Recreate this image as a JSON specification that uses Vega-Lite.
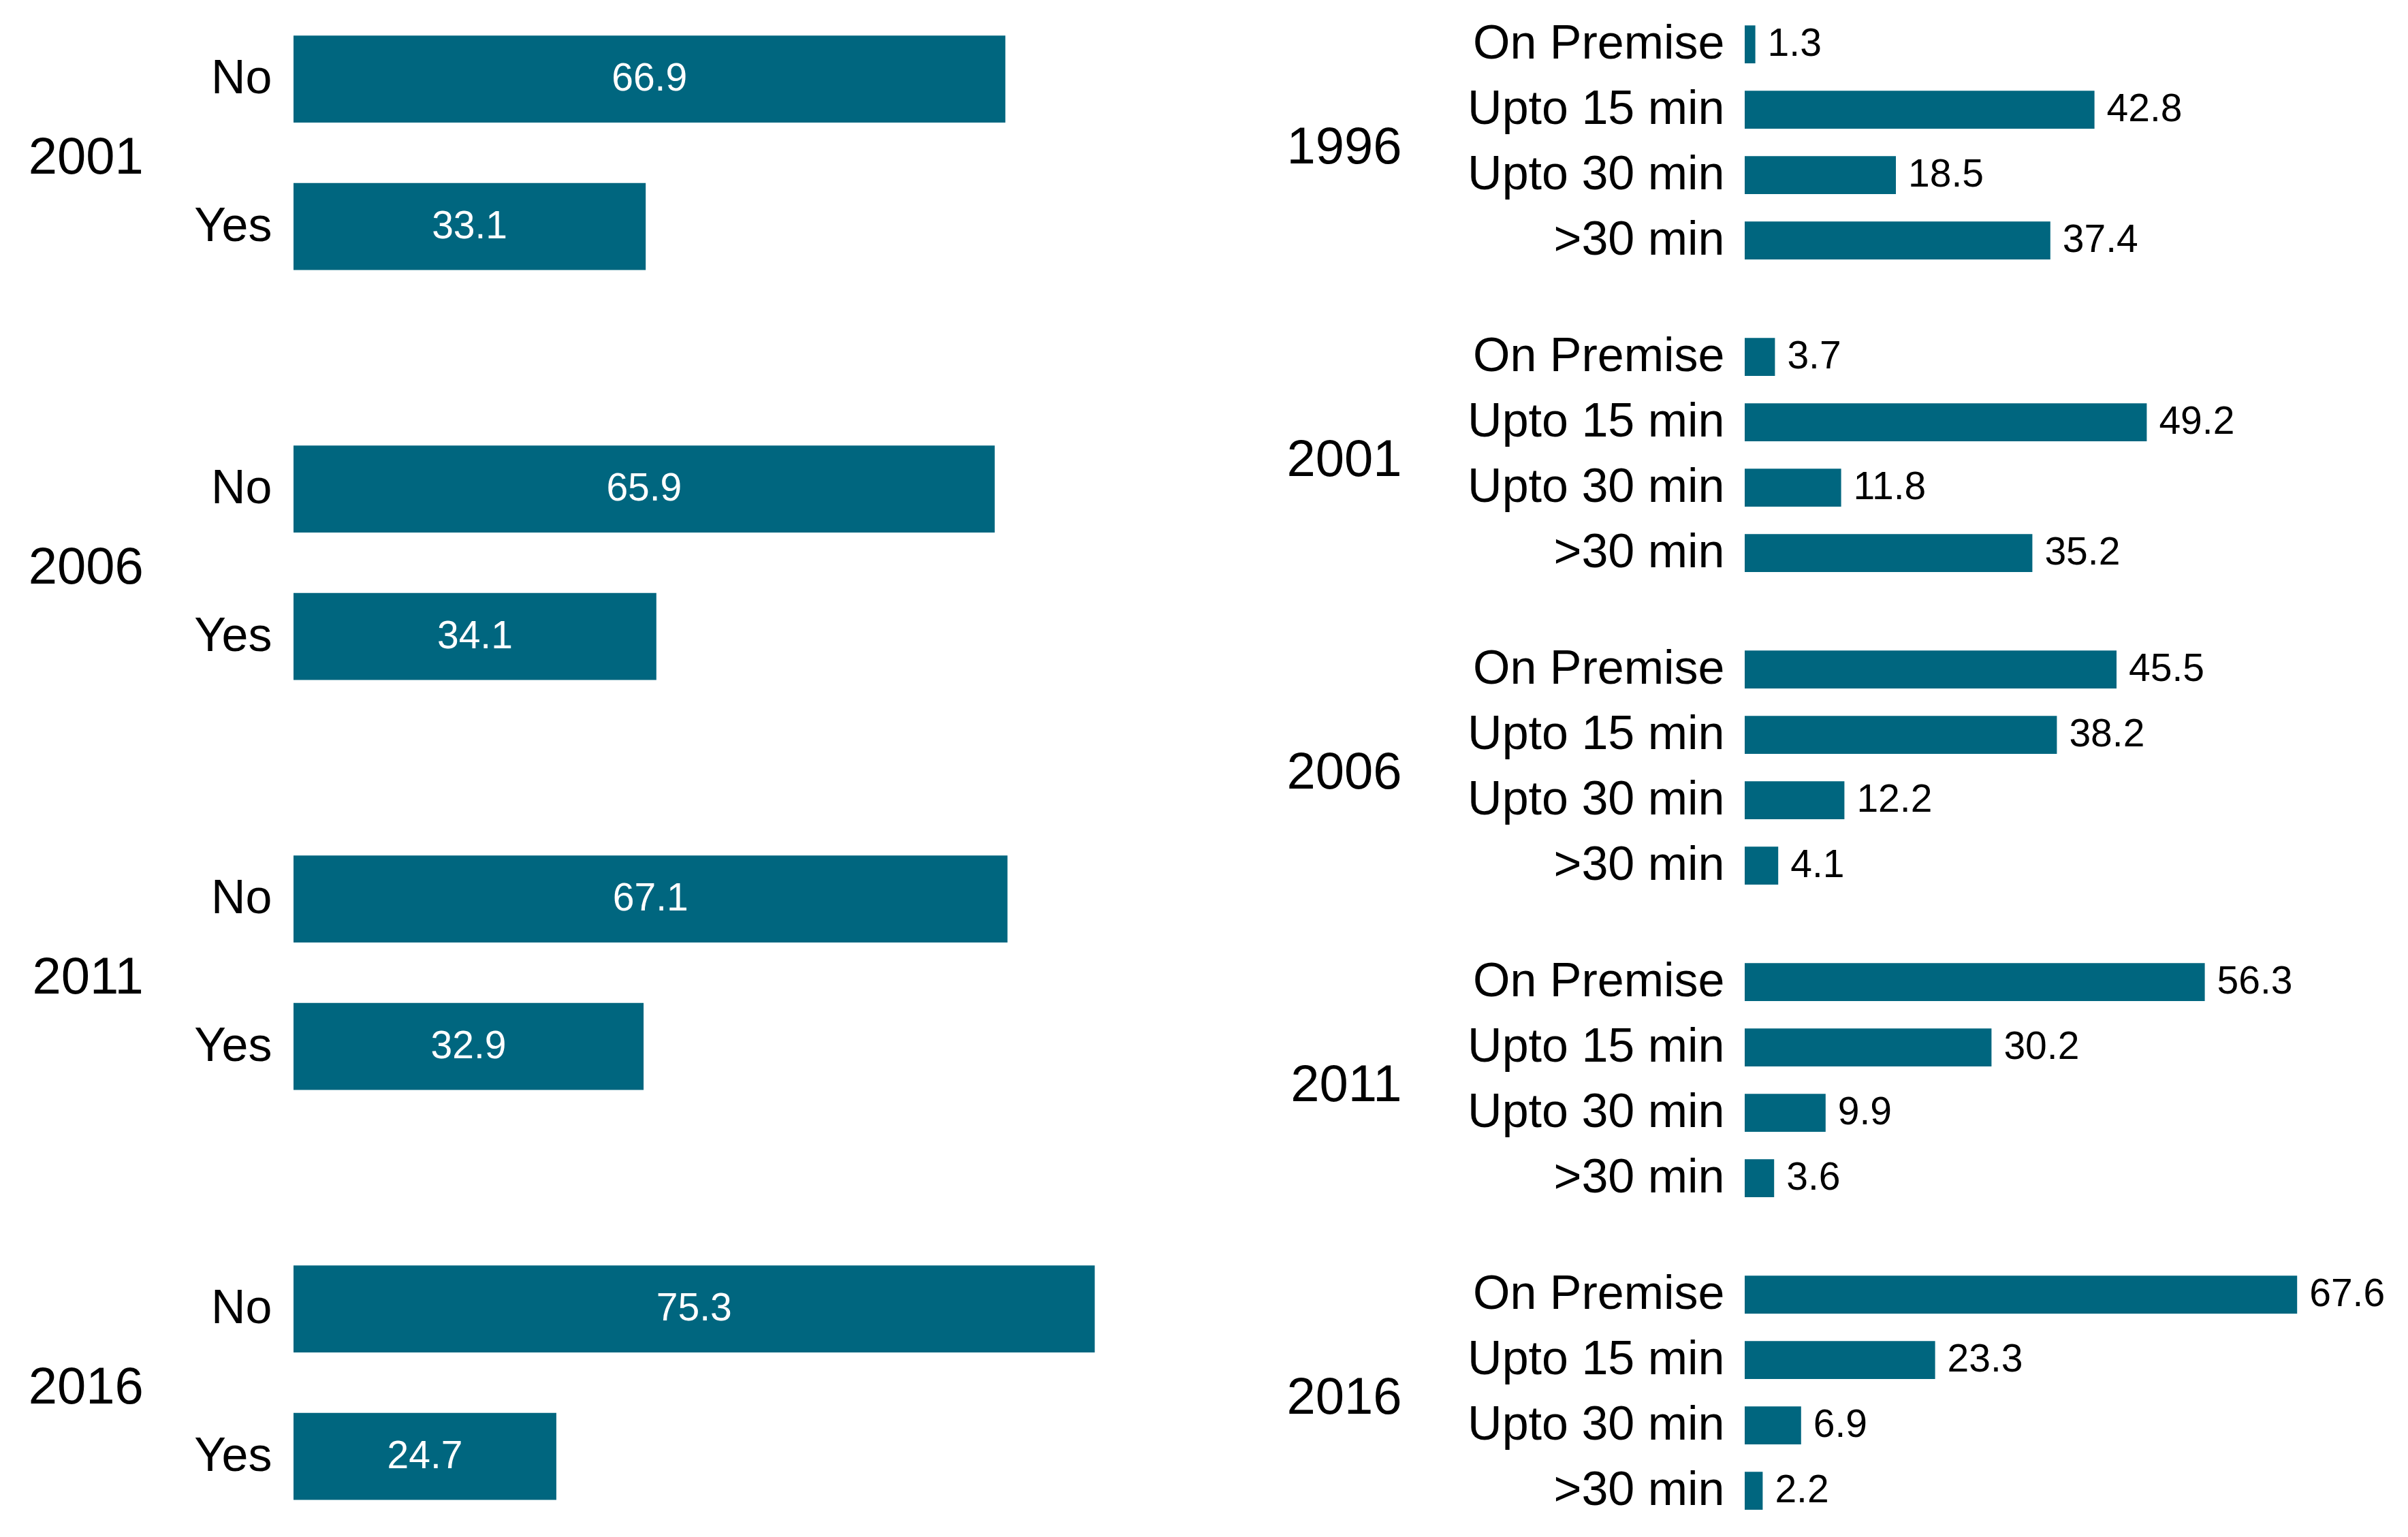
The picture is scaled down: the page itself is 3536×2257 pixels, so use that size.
{
  "$schema": "https://vega.github.io/schema/vega-lite/v6.json",
  "background": "white",
  "padding": {"left": 41, "top": 9, "right": 0, "bottom": 0},
  "autosize": {"type": "pad"},
  "datasets": {
    "left": [
      {"year": "2001", "answer": "No", "value": 66.9},
      {"year": "2001", "answer": "Yes", "value": 33.1},
      {"year": "2006", "answer": "No", "value": 65.9},
      {"year": "2006", "answer": "Yes", "value": 34.1},
      {"year": "2011", "answer": "No", "value": 67.1},
      {"year": "2011", "answer": "Yes", "value": 32.9},
      {"year": "2016", "answer": "No", "value": 75.3},
      {"year": "2016", "answer": "Yes", "value": 24.7}
    ],
    "right": [
      {"year": "1996", "category": "On Premise", "value": 1.3},
      {"year": "1996", "category": "Upto 15 min", "value": 42.8},
      {"year": "1996", "category": "Upto 30 min", "value": 18.5},
      {"year": "1996", "category": ">30 min", "value": 37.4},
      {"year": "2001", "category": "On Premise", "value": 3.7},
      {"year": "2001", "category": "Upto 15 min", "value": 49.2},
      {"year": "2001", "category": "Upto 30 min", "value": 11.8},
      {"year": "2001", "category": ">30 min", "value": 35.2},
      {"year": "2006", "category": "On Premise", "value": 45.5},
      {"year": "2006", "category": "Upto 15 min", "value": 38.2},
      {"year": "2006", "category": "Upto 30 min", "value": 12.2},
      {"year": "2006", "category": ">30 min", "value": 4.1},
      {"year": "2011", "category": "On Premise", "value": 56.3},
      {"year": "2011", "category": "Upto 15 min", "value": 30.2},
      {"year": "2011", "category": "Upto 30 min", "value": 9.9},
      {"year": "2011", "category": ">30 min", "value": 3.6},
      {"year": "2016", "category": "On Premise", "value": 67.6},
      {"year": "2016", "category": "Upto 15 min", "value": 23.3},
      {"year": "2016", "category": "Upto 30 min", "value": 6.9},
      {"year": "2016", "category": ">30 min", "value": 2.2}
    ]
  },
  "spacing": 208,
  "hconcat": [
    {
      "data": {"name": "left"},
      "facet": {
        "row": {
          "field": "year",
          "type": "ordinal",
          "header": {"title": null, "labelOrient": "left", "labelAngle": 0, "labelPadding": 74, "labelFontSize": 76, "labelFont": "Liberation Sans", "labelColor": "black", "labelAlign": "left", "labelBaseline": "line-top", "labelLineHeight": 18}
        }
      },
      "spacing": {"row": 171},
      "spec": {
        "width": 1250,
        "height": 430.8,
        "encoding": {
          "y": {
            "field": "answer",
            "type": "nominal",
            "sort": ["No", "Yes"],
            "scale": {"paddingInner": 0.41, "paddingOuter": 0.2},
            "axis": {"title": null, "domain": false, "ticks": false, "labelPadding": 32, "labelFontSize": 70, "labelFont": "Liberation Sans", "labelColor": "black", "labelLimit": 0}
          }
        },
        "layer": [
          {
            "mark": {"type": "bar", "color": "#00667f"},
            "encoding": {
              "x": {"field": "value", "type": "quantitative", "scale": {"domain": [0, 80]}, "axis": null}
            }
          },
          {
            "mark": {"type": "text", "color": "white", "fontSize": 57, "font": "Liberation Sans", "align": "center", "baseline": "middle"},
            "encoding": {
              "x": {"field": "value", "type": "quantitative", "scale": {"domain": [0, 160]}, "axis": null},
              "text": {"field": "value", "type": "quantitative", "format": ".1f"}
            }
          }
        ],
        "resolve": {"scale": {"x": "independent"}}
      }
    },
    {
      "data": {"name": "right"},
      "facet": {
        "row": {
          "field": "year",
          "type": "ordinal",
          "header": {"title": null, "labelOrient": "left", "labelAngle": 0, "labelPadding": 96, "labelFontSize": 76, "labelFont": "Liberation Sans", "labelColor": "black", "labelAlign": "left", "labelBaseline": "line-top", "labelLineHeight": 18}
        }
      },
      "spacing": {"row": 58},
      "spec": {
        "width": 840,
        "height": 400.3,
        "encoding": {
          "y": {
            "field": "category",
            "type": "nominal",
            "sort": ["On Premise", "Upto 15 min", "Upto 30 min", ">30 min"],
            "scale": {"paddingInner": 0.42, "paddingOuter": 0.295},
            "axis": {"title": null, "domain": false, "ticks": false, "labelPadding": 30, "labelFontSize": 70, "labelFont": "Liberation Sans", "labelColor": "black", "labelLimit": 0}
          },
          "x": {"field": "value", "type": "quantitative", "scale": {"domain": [0, 70]}, "axis": null}
        },
        "layer": [
          {"mark": {"type": "bar", "color": "#00667f"}},
          {
            "mark": {"type": "text", "color": "black", "fontSize": 57, "font": "Liberation Sans", "align": "left", "baseline": "middle", "dx": 18},
            "encoding": {
              "text": {"field": "value", "type": "quantitative", "format": ".1f"}
            }
          }
        ]
      }
    }
  ],
  "config": {
    "view": {"stroke": null},
    "axis": {"grid": false}
  }
}
